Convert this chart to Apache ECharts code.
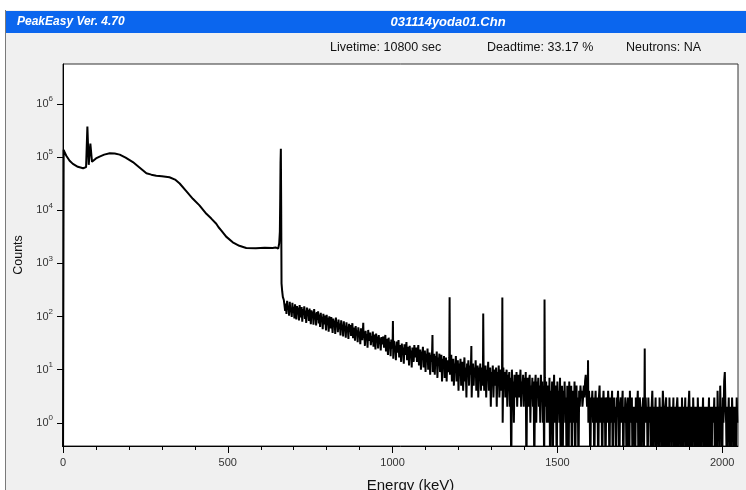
<!DOCTYPE html>
<html>
<head>
<meta charset="utf-8">
<script src="https://cdn.jsdelivr.net/npm/echarts@6/dist/echarts.min.js"></script>
<style>
  html, body { margin: 0; padding: 0; background: #fff; }
  #chart { width: 746px; height: 490px; }
</style>
</head>
<body>
<div id="chart"></div>
<script>
// smooth low-energy part + 662 keV photopeak (keV, counts)
const lowEnergy = [0, 2, 6, 10, 20, 30, 45, 61, 70, 78,
  88, 100, 111, 125, 142, 157, 172, 190, 212, 232,
  253, 268, 283, 300, 323, 340, 354, 374, 394, 414,
  435, 450, 465, 472, 480, 495, 515, 535, 556, 585,
  612, 636, 645, 650, 653, 656, 658, 659, 660, 661,
  662, 663, 665, 667, 670];
const lowCounts = [0, 138000, 120000, 107000, 86000, 75000, 66000, 62000, 65000, 72000,
  82000, 95000, 103000, 112000, 119000, 118000, 112000, 98000, 81000, 64000,
  50000, 47000, 45000, 44000, 42000, 38000, 32000, 23000, 16500, 12400,
  8600, 7000, 5600, 4800, 4200, 3200, 2500, 2150, 1960, 1930,
  1970, 1950, 2000, 1950, 1900, 2400, 4000, 15000, 80000, 144000,
  11500, 420, 300, 235, 205];

// narrow lines sitting on the continuum
const peakEnergy = [74, 83, 911, 1001, 1121, 1173, 1239, 1275, 1333, 1461, 1593, 1765];
const peakCounts = [380000, 180000, 76, 82, 45, 230, 28, 114, 229, 210, 15, 25];

// channel counts, 2 keV apart
const chanStep = 2;
const comptonStart = 672;   // 672 .. 1070
const comptonCounts = [
  215, 128, 176, 112, 198, 135, 160, 104, 189, 121,
  143, 98, 182, 117, 152, 92, 170, 126, 88, 158,
  110, 147, 84, 165, 119, 96, 151, 80, 138, 107,
  156, 90, 129, 76, 148, 102, 133, 83, 142, 97,
  72, 131, 94, 124, 70, 139, 88, 115, 68, 121,
  86, 126, 74, 109, 64, 118, 81, 99, 58, 113,
  71, 104, 85, 55, 108, 69, 95, 52, 101, 77,
  60, 98, 73, 49, 92, 66, 84, 47, 96, 63,
  79, 51, 88, 58, 74, 44, 85, 61, 70, 42,
  81, 55, 67, 40, 78, 57, 64, 38, 73, 52,
  69, 43, 58, 75, 39, 62, 49, 35, 66, 47,
  55, 33, 63, 41, 52, 30, 60, 44, 36, 57,
  40, 51, 28, 54, 38, 47, 26, 56, 35, 45,
  50, 29, 43, 33, 52, 27, 46, 37, 24, 48,
  34, 42, 25, 45, 31, 39, 23, 41, 30, 36,
  42, 26, 35, 45, 22, 38, 29, 19, 40, 27,
  33, 18, 37, 25, 30, 16, 35, 24, 28, 15,
  34, 21, 27, 36, 17, 29, 23, 14, 31, 20,
  26, 13, 30, 19, 24, 33, 15, 27, 21, 12,
  28, 18, 23, 11, 26, 20, 14, 29, 17, 22
];
const midStart = 1072;      // 1072 .. 1570
const midCounts = [
  26, 14, 21, 29, 12, 19, 24, 10, 22, 16,
  27, 11, 18, 23, 9, 20, 15, 25, 10, 17,
  21, 8, 19, 14, 24, 9, 16, 20, 8, 18,
  13, 22, 7, 17, 12, 20, 9, 15, 19, 6,
  16, 11, 18, 7, 14, 17, 6, 15, 12, 9,
  17, 8, 14, 19, 6, 12, 16, 5, 13, 10,
  18, 6, 11, 15, 4, 13, 9, 16, 5, 12,
  14, 4, 10, 17, 6, 11, 3, 13, 9, 15,
  5, 12, 8, 14, 3, 10, 13, 5, 11, 8,
  15, 4, 9, 12, 3, 11, 7, 13, 4, 10,
  11, 5, 13, 4, 9, 12, 3, 10, 7, 14,
  4, 8, 11, 2, 9, 6, 12, 3, 8, 10,
  5, 11, 2, 9, 6, 12, 3, 7, 10, 4,
  8, 1, 11, 5, 9, 3, 7, 10, 2, 8,
  6, 9, 2, 7, 0, 10, 4, 6, 1, 8,
  7, 3, 9, 2, 6, 8, 3, 5, 10, 2,
  6, 4, 8, 2, 7, 3, 9, 0, 5, 7,
  2, 6, 8, 1, 5, 3, 7, 2, 6, 0,
  5, 8, 1, 6, 3, 7, 2, 5, 1, 8,
  3, 6, 1, 5, 0, 7, 2, 6, 1, 4,
  5, 1, 7, 0, 4, 2, 6, 0, 3, 8,
  1, 5, 3, 0, 6, 2, 4, 1, 7, 0,
  3, 5, 0, 4, 2, 6, 1, 3, 0, 5,
  4, 0, 6, 2, 1, 5, 0, 3, 4, 1,
  6, 0, 2, 5, 1, 3, 0, 4, 2, 5
];
const tailStart = 1572;     // 1572 .. 2046
const tailCounts = [
  3, 4, 2, 3, 5, 3, 6, 8, 4, 2,
  3, 1, 4, 2, 0, 3, 2, 4, 1, 3,
  0, 2, 4, 1, 3, 2, 0, 3, 5, 1,
  2, 3, 0, 2, 4, 1, 3, 0, 2, 3,
  1, 4, 2, 0, 3, 1, 2, 4, 0, 2,
  3, 1, 2, 0, 3, 2, 4, 1, 0, 2,
  3, 1, 2, 4, 0, 2, 1, 3, 2, 0,
  1, 3, 2, 0, 4, 1, 2, 3, 0, 2,
  1, 2, 0, 3, 1, 2, 4, 0, 1, 3,
  2, 0, 2, 1, 3, 0, 2, 1, 3, 1,
  2, 0, 3, 1, 2, 1, 0, 2, 4, 1,
  0, 2, 1, 3, 0, 2, 1, 2, 0, 3,
  1, 2, 0, 1, 4, 2, 0, 1, 2, 3,
  0, 2, 1, 0, 3, 1, 2, 0, 2, 1,
  3, 0, 1, 2, 0, 2, 3, 1, 0, 2,
  1, 2, 0, 3, 1, 0, 2, 1, 3, 0,
  2, 1, 0, 2, 4, 1, 0, 2, 1, 0,
  3, 1, 2, 0, 1, 2, 0, 3, 1, 0,
  2, 1, 0, 2, 1, 3, 0, 1, 2, 0,
  1, 2, 0, 1, 3, 0, 2, 1, 0, 2,
  2, 1, 3, 0, 1, 2, 0, 4, 1, 2,
  0, 5, 1, 2, 0, 3, 1, 6, 9, 2,
  1, 0, 2, 1, 3, 0, 2, 1, 0, 3,
  1, 2, 0, 1, 2, 0, 3, 1
];

const xLabelValues = [0, 500, 1000, 1500, 2000];
const xMinorValues = [100, 200, 300, 400, 600, 700, 800, 900, 1100, 1200, 1300, 1400,
  1600, 1700, 1800, 1900];
const yDecades = [1, 10, 100, 1000, 10000, 100000, 1000000];

const FONT = 'Liberation Sans, Arial, sans-serif';
const ZERO_DRAW = 0.1;   // empty channels drop below the axis floor

const pts = [];
lowEnergy.forEach((e, i) => pts.push([e, lowCounts[i]]));
comptonCounts.forEach((c, i) => pts.push([comptonStart + i * chanStep, c]));
midCounts.forEach((c, i) => pts.push([midStart + i * chanStep, c]));
tailCounts.forEach((c, i) => pts.push([tailStart + i * chanStep, c]));
peakEnergy.forEach((e, i) => pts.push([e, peakCounts[i]]));
pts.sort((a, b) => a[0] - b[0]);
const spectrum = pts.map(p => [p[0], p[1] > 0 ? p[1] : ZERO_DRAW]);

const chart = echarts.init(document.getElementById('chart'));
chart.setOption({
  animation: false,
  backgroundColor: '#fff',
  graphic: [
    { type: 'rect', z: -10, shape: { x: 5, y: 10, width: 741, height: 480 },
      style: { fill: '#f0f0f0', stroke: null } },
    { type: 'line', z: -9, shape: { x1: 5.5, y1: 10, x2: 5.5, y2: 490 },
      style: { stroke: '#7a7a7a', lineWidth: 1 } },
    { type: 'rect', z: -9, shape: { x: 6, y: 11, width: 740, height: 22 },
      style: { fill: '#0b66ee' } },
    { type: 'text', style: { text: 'PeakEasy Ver. 4.70', x: 17, y: 22, fill: '#fff',
      font: 'italic bold 12px ' + FONT, textVerticalAlign: 'middle' } },
    { type: 'text', style: { text: '031114yoda01.Chn', x: 448, y: 22, fill: '#fff',
      font: 'italic bold 13px ' + FONT, textAlign: 'center', textVerticalAlign: 'middle' } },
    { type: 'text', style: { text: 'Livetime: 10800 sec', x: 330, y: 48, fill: '#111',
      font: '12.5px ' + FONT, textVerticalAlign: 'middle' } },
    { type: 'text', style: { text: 'Deadtime: 33.17 %', x: 487, y: 48, fill: '#111',
      font: '12.5px ' + FONT, textVerticalAlign: 'middle' } },
    { type: 'text', style: { text: 'Neutrons: NA', x: 626, y: 48, fill: '#111',
      font: '12.5px ' + FONT, textVerticalAlign: 'middle' } }
  ],
  grid: {
    left: 63, top: 64, right: 8, bottom: 44,
    outerBoundsMode: 'none', containLabel: false,
    show: true, backgroundColor: '#fff', borderColor: '#333', borderWidth: 1
  },
  xAxis: [
    {
      type: 'value', min: 0, max: 2048, position: 'bottom',
      axisLine: { show: true, onZero: false, lineStyle: { color: '#000', width: 1 } },
      axisTick: { show: true, length: 7, customValues: xLabelValues, lineStyle: { color: '#000' } },
      axisLabel: { customValues: xLabelValues, margin: 11, fontSize: 11, color: '#333', fontFamily: FONT,
        formatter: v => String(v) },
      splitLine: { show: false },
      name: 'Energy (keV)', nameLocation: 'middle', nameGap: 32,
      nameTextStyle: { fontSize: 15, color: '#111', fontFamily: FONT, padding: [0, 0, 0, 20] }
    },
    {
      type: 'value', min: 0, max: 2048, position: 'bottom',
      axisLine: { show: false },
      axisTick: { show: true, length: 4, customValues: xMinorValues, lineStyle: { color: '#000' } },
      axisLabel: { show: false },
      splitLine: { show: false }
    }
  ],
  yAxis: {
    type: 'log', logBase: 10, min: 0.365, max: 5.7e6,
    axisLine: { show: true, lineStyle: { color: '#000', width: 1 } },
    axisTick: { show: true, length: 6, customValues: yDecades, lineStyle: { color: '#000' } },
    axisLabel: {
      customValues: yDecades, margin: 10, fontSize: 11, color: '#333', fontFamily: FONT,
      lineHeight: 18,
      formatter: v => '10{sup|' + Math.round(Math.log10(v)) + '}',
      rich: { sup: { fontSize: 8, color: '#333', fontFamily: FONT, verticalAlign: 'top', lineHeight: 11 } }
    },
    splitLine: { show: false },
    minorTick: { show: false },
    name: 'Counts', nameLocation: 'middle', nameGap: 38,
    nameTextStyle: { fontSize: 12.5, color: '#111', fontFamily: FONT }
  },
  series: [{
    type: 'line',
    data: spectrum,
    showSymbol: false,
    symbol: 'none',
    clip: true,
    lineStyle: { color: '#000', width: 2 },
    emphasis: { disabled: true }
  }]
});
</script>
</body>
</html>
